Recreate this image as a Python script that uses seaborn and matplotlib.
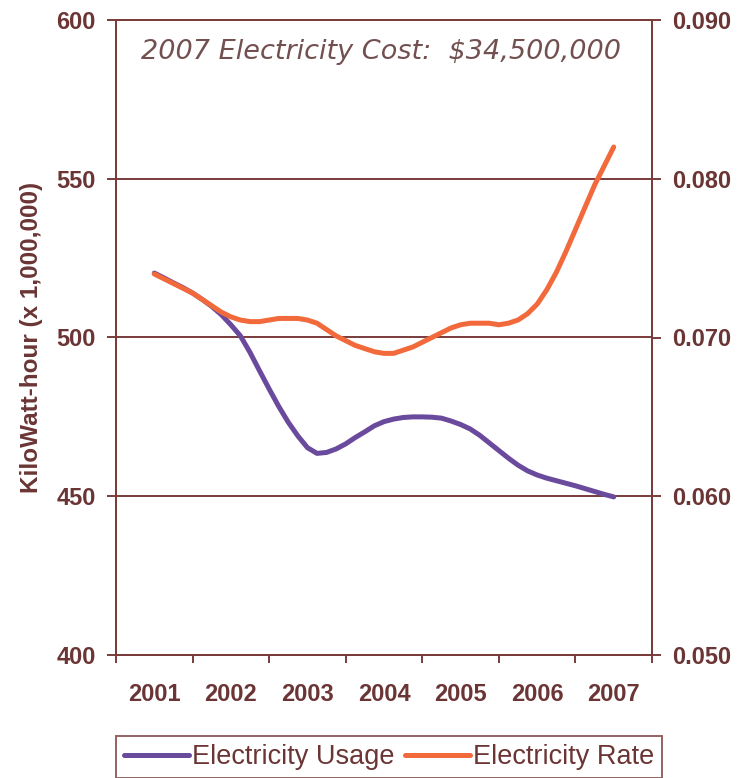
import matplotlib
matplotlib.use("Agg")
import matplotlib.pyplot as plt
from matplotlib.ticker import FixedLocator, FuncFormatter
import pandas as pd
import seaborn as sns

# Readings every eighth of a year, 2001 through 2007
period = [2001.000, 2001.125, 2001.250, 2001.375, 2001.500, 2001.625, 2001.750, 2001.875,
          2002.000, 2002.125, 2002.250, 2002.375, 2002.500, 2002.625, 2002.750, 2002.875,
          2003.000, 2003.125, 2003.250, 2003.375, 2003.500, 2003.625, 2003.750, 2003.875,
          2004.000, 2004.125, 2004.250, 2004.375, 2004.500, 2004.625, 2004.750, 2004.875,
          2005.000, 2005.125, 2005.250, 2005.375, 2005.500, 2005.625, 2005.750, 2005.875,
          2006.000, 2006.125, 2006.250, 2006.375, 2006.500, 2006.625, 2006.750, 2006.875,
          2007.000]
usage_mkwh = [520.3, 518.8, 517.2, 515.7, 514.0, 512.0, 509.8, 507.2,
              504.0, 500.5, 495.3, 489.5, 483.8, 478.3, 473.3, 469.0,
              465.3, 463.5, 463.8, 464.9, 466.5, 468.5, 470.3, 472.2,
              473.5, 474.3, 474.8, 475.0, 475.0, 474.9, 474.6, 473.7,
              472.6, 471.2, 469.2, 466.8, 464.4, 462.0, 459.8, 458.0,
              456.7, 455.7, 454.9, 454.1, 453.3, 452.4, 451.5, 450.6,
              449.8]
rate_per_kwh = [0.0740, 0.0737, 0.0734, 0.0731, 0.0728, 0.0724, 0.0720, 0.0716,
                0.0713, 0.0711, 0.0710, 0.0710, 0.0711, 0.0712, 0.0712, 0.0712,
                0.0711, 0.0709, 0.0705, 0.0701, 0.0698, 0.0695, 0.0693, 0.0691,
                0.0690, 0.0690, 0.0692, 0.0694, 0.0697, 0.0700, 0.0703, 0.0706,
                0.0708, 0.0709, 0.0709, 0.0709, 0.0708, 0.0709, 0.0711, 0.0715,
                0.0721, 0.0730, 0.0741, 0.0754, 0.0768, 0.0782, 0.0796, 0.0808,
                0.0820]
years = [2001, 2002, 2003, 2004, 2005, 2006, 2007]
left_ticks = [400, 450, 500, 550, 600]
right_ticks = [0.050, 0.060, 0.070, 0.080, 0.090]
cost_note = "2007 Electricity Cost:  $34,500,000"

df = pd.DataFrame({"period": period, "usage": usage_mkwh, "rate": rate_per_kwh})

MAROON = "#7a3b3b"
TEXT = "#6b3535"
PURPLE = "#6a4a9c"
ORANGE = "#f26a3c"
TICK_FS = 17

sns.set_theme(style="white")
plt.rcParams["font.family"] = ["Liberation Sans", "DejaVu Sans"]

fig = plt.figure(figsize=(7.4, 7.78), dpi=100)
ax = fig.add_axes([116 / 740, 1 - 655 / 778, (652 - 116) / 740, (655 - 20) / 778])
ax2 = ax.twinx()

line_kw = dict(lw=3.6, solid_capstyle="round", solid_joinstyle="round")
sns.lineplot(data=df, x="period", y="usage", ax=ax, color=PURPLE,
             label="Electricity Usage", legend=False, **line_kw)
sns.lineplot(data=df, x="period", y="rate", ax=ax2, color=ORANGE,
             label="Electricity Rate", legend=False, **line_kw)
ax2.set_zorder(ax.get_zorder() + 1)
ax2.patch.set_visible(False)

ax.set_xlim(min(years) - 0.5, max(years) + 0.5)
ax.set_ylim(left_ticks[0], left_ticks[-1])
ax2.set_ylim(right_ticks[0], right_ticks[-1])

# category boundaries carry the tick marks, labels sit at the centres
bounds = [y - 0.5 for y in years] + [years[-1] + 0.5]
ax.xaxis.set_major_locator(FixedLocator(bounds))
ax.xaxis.set_minor_locator(FixedLocator(years))
ax.set_xticklabels([])
ax.set_xticklabels([str(y) for y in years], minor=True)
ax.tick_params(axis="x", which="major", length=6, width=1.4, color=MAROON,
               direction="out", bottom=True)
ax.tick_params(axis="x", which="minor", length=0, pad=20, labelsize=TICK_FS,
               labelcolor=TEXT)
for t in ax.get_xticklabels(minor=True):
    t.set_fontweight("bold")

ax.set_yticks(left_ticks)
ax.tick_params(axis="y", length=6.5, width=1.4, color=MAROON, direction="out",
               left=True, pad=8, labelsize=TICK_FS, labelcolor=TEXT)
for t in ax.get_yticklabels():
    t.set_fontweight("bold")

ax2.set_yticks(right_ticks)
ax2.yaxis.set_major_formatter(FuncFormatter(lambda v, p: f"{v:.3f}"))
ax2.tick_params(axis="y", length=6.5, width=1.4, color=MAROON, direction="out",
                right=True, pad=8, labelsize=TICK_FS, labelcolor=TEXT)
for t in ax2.get_yticklabels():
    t.set_fontweight("bold")

ax.yaxis.grid(True, color=MAROON, lw=1.4)
ax.xaxis.grid(False)
ax.set_axisbelow(True)

for a in (ax, ax2):
    for s in a.spines.values():
        s.set_color(MAROON)
        s.set_linewidth(1.4)
    a.set_xlabel("")
ax2.set_ylabel("")
ax.set_ylabel("KiloWatt-hour (x 1,000,000)", fontsize=17.5, fontweight="bold",
              color=TEXT, labelpad=10)

ax.text(0.495, 0.949, cost_note, transform=ax.transAxes, ha="center", va="center",
        fontsize=19.5, style="italic", color="#735050",
        family=["DejaVu Sans"])

handles = ax.get_lines()[:1] + ax2.get_lines()[:1]
leg = fig.legend(handles, [h.get_label() for h in handles],
                 loc="upper left", bbox_to_anchor=(116 / 740, 1 - 736 / 778),
                 ncol=2, frameon=True, fancybox=False, fontsize=19.5,
                 handlelength=2.4, handletextpad=0.1, columnspacing=0.4,
                 borderaxespad=0, borderpad=0.3)
leg.get_frame().set_edgecolor(MAROON)
leg.get_frame().set_linewidth(1.4)
for txt in leg.get_texts():
    txt.set_color(TEXT)

fig.savefig("out.png", dpi=100)
